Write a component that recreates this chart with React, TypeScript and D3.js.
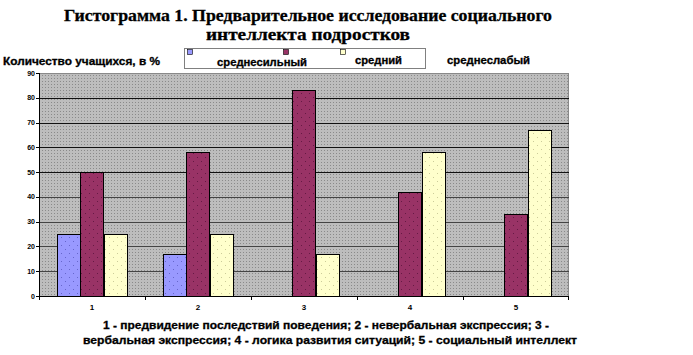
import React from "react";
import * as d3 from "d3";

const categories = ["1", "2", "3", "4", "5"];
const seriesNames = ["среднесильный", "средний", "среднеслабый"];
const blueValues = [25, 17, 0, 0, 0];
const purpleValues = [50, 58, 83, 42, 33];
const yellowValues = [25, 25, 17, 58, 67];
const yTicks = [0, 10, 20, 30, 40, 50, 60, 70, 80, 90];
const titleLines = [
  "Гистограмма 1. Предварительное исследование социального",
  "интеллекта  подростков",
];
const captionLines = [
  "1 - предвидение последствий поведения; 2 - невербальная экспрессия; 3 -",
  "вербальная экспрессия; 4 - логика развития ситуаций;  5 - социальный интеллект",
];
const yAxisTitle = "Количество учащихся, в %";

const series = [blueValues, purpleValues, yellowValues];
const colors = ["#9999ff", "#993366", "#ffffcc"];
const dotColors = ["#6666cc", "#661a44", "#cccc99"];

export default function App() {
  const W = 693, H = 355;
  const left = 39, right = 569, top = 73, bottom = 296;
  const x = d3.scaleBand<string>().domain(categories).range([left, right]);
  const y = d3.scaleLinear().domain([0, 90]).range([bottom, top]);
  const bw = x.bandwidth();
  const barW = bw * 0.22;
  const sans = "Liberation Sans, Arial, sans-serif";
  const serif = "Liberation Serif, DejaVu Serif, serif";

  return (
    <svg width={W} height={H} style={{ position: "absolute", left: 0, top: 0, background: "#fff" }}>
      <defs>
        <pattern id="bgp" width="3" height="3" patternUnits="userSpaceOnUse">
          <rect width="3" height="3" fill="#bdbdbd" />
          <rect width="1" height="1" fill="#8a8a8a" />
        </pattern>
        {colors.map((c, i) => (
          <pattern key={i} id={`bp${i}`} width="8" height="8" patternUnits="userSpaceOnUse">
            <rect width="8" height="8" fill={c} />
            <rect x="1" y="1" width="1" height="1" fill={dotColors[i]} />
            <rect x="5" y="5" width="1" height="1" fill={dotColors[i]} />
          </pattern>
        ))}
      </defs>

      {titleLines.map((t, i) => (
        <text key={i} x={308} y={21 + i * 19} textAnchor="middle" fontFamily={serif}
          fontWeight="bold" fontSize={17} stroke="#000" strokeWidth={0.3}
          textLength={i === 0 ? 488 : 204} lengthAdjust="spacingAndGlyphs">{t}</text>
      ))}

      <text x={3} y={65} fontFamily={sans} fontWeight="bold" fontSize={10.5} stroke="#000" strokeWidth={0.3}
        textLength={157} lengthAdjust="spacingAndGlyphs">{yAxisTitle}</text>

      {/* legend */}
      <rect x={184.5} y={48.5} width={241} height={20} fill="#fff" stroke="#000"
        strokeWidth={1} strokeDasharray="1,1" />
      {[187, 283, 340].map((lx, i) => (
        <rect key={i} x={lx + 0.5} y={49.5} width={5} height={5} fill={colors[i]} stroke="#000" strokeWidth={0.6} />
      ))}
      <g fontFamily={sans} fontWeight="bold" fontSize={10.5} stroke="#000" strokeWidth={0.3}>
        <text x={217} y={66} textLength={90} lengthAdjust="spacingAndGlyphs">{seriesNames[0]}</text>
        <text x={355} y={64} textLength={47} lengthAdjust="spacingAndGlyphs">{seriesNames[1]}</text>
        <text x={447} y={64} textLength={83} lengthAdjust="spacingAndGlyphs">{seriesNames[2]}</text>
      </g>

      {/* plot area */}
      <rect x={left} y={top} width={right - left} height={bottom - top} fill="url(#bgp)" />
      <rect x={left + 0.5} y={top + 0.5} width={right - left - 1} height={bottom - top}
        fill="none" stroke="#555" strokeDasharray="1,1" />
      {yTicks.slice(1, -1).map((v) => (
        <line key={v} x1={left} x2={right} y1={Math.round(y(v)) + 0.5} y2={Math.round(y(v)) + 0.5}
          stroke={v >= 50 ? "#111" : "#444"} strokeWidth={1} />
      ))}

      {categories.map((c, ci) =>
        series.map((vals, si) => {
          const v = vals[ci];
          if (!v) return null;
          const bx = (x(c) as number) + bw / 2 - 1.5 * barW + si * barW;
          return (
            <rect key={`${ci}-${si}`} x={Math.round(bx) + 0.5} y={Math.round(y(v)) + 0.5}
              width={Math.round(barW)} height={Math.round(bottom - y(v))}
              fill={`url(#bp${si})`} stroke="#000" strokeWidth={1} />
          );
        })
      )}

      {/* axes */}
      <line x1={left + 0.5} x2={left + 0.5} y1={top} y2={bottom + 1} stroke="#000" />
      <line x1={left} x2={right} y1={bottom + 0.5} y2={bottom + 0.5} stroke="#000" />
      {yTicks.map((v) => (
        <g key={v}>
          <line x1={left - 3} x2={left} y1={Math.round(y(v)) + 0.5} y2={Math.round(y(v)) + 0.5} stroke="#000" />
          <text x={left - 4} y={y(v) + 2.5} textAnchor="end" fontFamily={sans} fontWeight="bold" fontSize={7}>{v}</text>
        </g>
      ))}
      {categories.map((c, i) => (
        <g key={c}>
          <line x1={Math.round(x(c) as number) + 0.5} x2={Math.round(x(c) as number) + 0.5}
            y1={bottom} y2={bottom + 4} stroke="#000" />
          <text x={(x(c) as number) + bw / 2} y={310} textAnchor="middle" fontFamily={sans}
            fontWeight="bold" fontSize={8}>{c}</text>
          {i === categories.length - 1 && (
            <line x1={right - 0.5} x2={right - 0.5} y1={bottom} y2={bottom + 4} stroke="#000" />
          )}
        </g>
      ))}

      {captionLines.map((t, i) => (
        <text key={i} x={i === 0 ? 326 : 330} y={329 + i * 15} textAnchor="middle" fontFamily={sans}
          fontWeight="bold" fontSize={11} stroke="#000" strokeWidth={0.3}
          textLength={i === 0 ? 446 : 494} lengthAdjust="spacingAndGlyphs">{t}</text>
      ))}
    </svg>
  );
}
